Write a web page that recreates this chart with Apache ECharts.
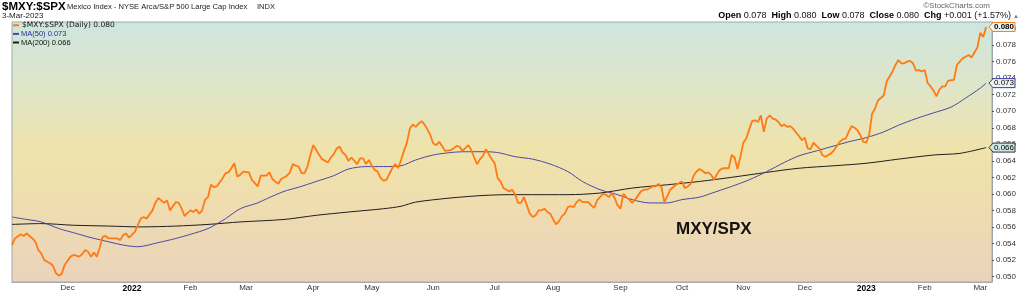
<!DOCTYPE html>
<html><head><meta charset="utf-8">
<script src="https://cdn.jsdelivr.net/npm/echarts@6/dist/echarts.min.js"></script>
<style>html,body{margin:0;padding:0;background:#fff}#c{width:1024px;height:293px}</style>
</head><body><div id="c"></div>
<script>
// ---- data ----
const firstDay = '2021-11-03', lastDay = '2023-03-07';
const holidays = ['2021-11-25','2021-12-24','2022-01-17','2022-02-21','2022-04-15','2022-05-30','2022-06-20','2022-07-04','2022-09-05','2022-11-24','2022-12-26','2023-01-02','2023-01-16','2023-02-20'];
const monthNames = ['Jan','Feb','Mar','Apr','May','Jun','Jul','Aug','Sep','Oct','Nov','Dec'];
const yTicks = [0.050,0.052,0.054,0.056,0.058,0.060,0.062,0.064,0.066,0.068,0.070,0.072,0.074,0.076,0.078,0.080];

const price = [
['2021-11-03',0.0538],['2021-11-04',0.0546],['2021-11-08',0.0551],['2021-11-09',0.0549],['2021-11-10',0.0552],['2021-11-12',0.0546],['2021-11-15',0.0542],['2021-11-16',0.0532],['2021-11-17',0.0528],['2021-11-18',0.0520],['2021-11-22',0.0516],['2021-11-23',0.0513],['2021-11-24',0.0504],['2021-11-26',0.0501],['2021-11-29',0.0503],['2021-11-30',0.0514],
['2021-12-02',0.0524],['2021-12-03',0.0526],['2021-12-07',0.0524],['2021-12-08',0.0527],['2021-12-09',0.0532],['2021-12-10',0.0530],['2021-12-13',0.0524],['2021-12-14',0.0529],['2021-12-15',0.0524],['2021-12-16',0.0535],['2021-12-17',0.0548],['2021-12-20',0.0549],['2021-12-21',0.0546],['2021-12-27',0.0546],['2021-12-28',0.0544],['2021-12-29',0.0550],['2021-12-30',0.0552],['2021-12-31',0.0547],
['2022-01-04',0.0554],['2022-01-05',0.0562],['2022-01-06',0.0570],['2022-01-07',0.0572],['2022-01-10',0.0570],['2022-01-12',0.0580],['2022-01-13',0.0589],['2022-01-14',0.0595],['2022-01-19',0.0589],['2022-01-20',0.0592],['2022-01-21',0.0580],['2022-01-25',0.0590],['2022-01-26',0.0589],['2022-01-27',0.0582],['2022-01-28',0.0573],['2022-01-31',0.0577],
['2022-02-01',0.0580],['2022-02-02',0.0578],['2022-02-03',0.0581],['2022-02-04',0.0576],['2022-02-07',0.0580],['2022-02-08',0.0593],['2022-02-09',0.0596],['2022-02-10',0.0611],['2022-02-11',0.0608],['2022-02-14',0.0609],['2022-02-16',0.0619],['2022-02-17',0.0625],['2022-02-18',0.0626],['2022-02-22',0.0631],['2022-02-23',0.0637],['2022-02-24',0.0621],['2022-02-25',0.0623],['2022-02-28',0.0627],
['2022-03-02',0.0626],['2022-03-03',0.0617],['2022-03-07',0.0609],['2022-03-08',0.0622],['2022-03-10',0.0622],['2022-03-11',0.0626],['2022-03-14',0.0618],['2022-03-16',0.0612],['2022-03-17',0.0618],['2022-03-21',0.0622],['2022-03-22',0.0626],['2022-03-23',0.0636],['2022-03-24',0.0634],['2022-03-25',0.0633],['2022-03-28',0.0625],['2022-03-29',0.0625],['2022-03-30',0.0633],['2022-03-31',0.0647],
['2022-04-01',0.0659],['2022-04-04',0.0653],['2022-04-05',0.0647],['2022-04-06',0.0642],['2022-04-08',0.0638],['2022-04-11',0.0644],['2022-04-12',0.0648],['2022-04-13',0.0655],['2022-04-14',0.0657],['2022-04-18',0.0650],['2022-04-19',0.0647],['2022-04-20',0.0640],['2022-04-21',0.0644],['2022-04-25',0.0636],['2022-04-26',0.0643],['2022-04-27',0.0643],['2022-04-28',0.0636],['2022-04-29',0.0641],
['2022-05-02',0.0634],['2022-05-03',0.0629],['2022-05-04',0.0627],['2022-05-05',0.0619],['2022-05-06',0.0616],['2022-05-09',0.0617],['2022-05-11',0.0631],['2022-05-12',0.0636],['2022-05-13',0.0631],['2022-05-16',0.0641],['2022-05-17',0.0652],['2022-05-18',0.0662],['2022-05-19',0.0679],['2022-05-20',0.0684],['2022-05-23',0.0681],['2022-05-24',0.0685],['2022-05-25',0.0688],['2022-05-26',0.0684],['2022-05-27',0.0678],['2022-05-31',0.0671],
['2022-06-01',0.0661],['2022-06-02',0.0659],['2022-06-03',0.0663],['2022-06-06',0.0658],['2022-06-07',0.0652],['2022-06-09',0.0653],['2022-06-10',0.0655],['2022-06-13',0.0658],['2022-06-14',0.0657],['2022-06-15',0.0652],['2022-06-17',0.0659],['2022-06-21',0.0653],['2022-06-22',0.0644],['2022-06-23',0.0636],['2022-06-24',0.0642],['2022-06-27',0.0646],['2022-06-28',0.0654],['2022-06-29',0.0648],['2022-06-30',0.0642],
['2022-07-01',0.0637],['2022-07-05',0.0619],['2022-07-06',0.0615],['2022-07-07',0.0607],['2022-07-08',0.0605],['2022-07-11',0.0603],['2022-07-12',0.0605],['2022-07-13',0.0599],['2022-07-14',0.0589],['2022-07-15',0.0589],['2022-07-18',0.0596],['2022-07-19',0.0586],['2022-07-20',0.0576],['2022-07-21',0.0572],['2022-07-22',0.0574],['2022-07-25',0.0580],['2022-07-26',0.0580],['2022-07-27',0.0582],['2022-07-28',0.0578],['2022-07-29',0.0576],
['2022-08-01',0.0569],['2022-08-02',0.0563],['2022-08-03',0.0567],['2022-08-04',0.0573],['2022-08-05',0.0576],['2022-08-08',0.0584],['2022-08-09',0.0585],['2022-08-10',0.0584],['2022-08-11',0.0590],['2022-08-12',0.0593],['2022-08-15',0.0590],['2022-08-17',0.0590],['2022-08-18',0.0586],['2022-08-19',0.0583],['2022-08-22',0.0592],['2022-08-23',0.0596],['2022-08-24',0.0600],['2022-08-25',0.0599],['2022-08-26',0.0596],['2022-08-29',0.0601],['2022-08-30',0.0595],['2022-08-31',0.0586],
['2022-09-01',0.0582],['2022-09-02',0.0600],['2022-09-06',0.0596],['2022-09-07',0.0593],['2022-09-08',0.0589],['2022-09-09',0.0593],['2022-09-13',0.0603],['2022-09-14',0.0605],['2022-09-15',0.0605],['2022-09-19',0.0609],['2022-09-20',0.0609],['2022-09-21',0.0612],['2022-09-22',0.0608],['2022-09-23',0.0590],['2022-09-26',0.0597],['2022-09-27',0.0605],['2022-09-28',0.0608],['2022-09-29',0.0611],
['2022-10-03',0.0615],['2022-10-04',0.0607],['2022-10-05',0.0609],['2022-10-06',0.0612],['2022-10-07',0.0622],['2022-10-10',0.0627],['2022-10-11',0.0630],['2022-10-12',0.0628],['2022-10-13',0.0625],['2022-10-14',0.0626],['2022-10-17',0.0623],['2022-10-18',0.0617],['2022-10-19',0.0624],['2022-10-20',0.0629],['2022-10-21',0.0631],['2022-10-25',0.0631],['2022-10-26',0.0647],['2022-10-27',0.0644],['2022-10-28',0.0630],['2022-10-31',0.0645],
['2022-11-01',0.0662],['2022-11-02',0.0667],['2022-11-03',0.0678],['2022-11-04',0.0688],['2022-11-07',0.0689],['2022-11-08',0.0687],['2022-11-09',0.0695],['2022-11-10',0.0675],['2022-11-11',0.0691],['2022-11-14',0.0695],['2022-11-15',0.0691],['2022-11-16',0.0690],['2022-11-17',0.0687],['2022-11-18',0.0682],['2022-11-21',0.0684],['2022-11-22',0.0681],['2022-11-23',0.0682],['2022-11-25',0.0679],['2022-11-29',0.0670],['2022-11-30',0.0665],
['2022-12-01',0.0668],['2022-12-02',0.0655],['2022-12-05',0.0654],['2022-12-06',0.0662],['2022-12-07',0.0658],['2022-12-08',0.0655],['2022-12-09',0.0647],['2022-12-12',0.0645],['2022-12-14',0.0649],['2022-12-15',0.0653],['2022-12-19',0.0663],['2022-12-20',0.0666],['2022-12-21',0.0667],['2022-12-22',0.0675],['2022-12-23',0.0682],['2022-12-27',0.0680],['2022-12-28',0.0677],['2022-12-29',0.0671],['2022-12-30',0.0663],
['2023-01-03',0.0662],['2023-01-04',0.0671],['2023-01-05',0.0697],['2023-01-06',0.0703],['2023-01-09',0.0713],['2023-01-11',0.0719],['2023-01-12',0.0736],['2023-01-13',0.0742],['2023-01-17',0.0748],['2023-01-18',0.0756],['2023-01-19',0.0762],['2023-01-20',0.0758],['2023-01-23',0.0758],['2023-01-24',0.0760],['2023-01-25',0.0761],['2023-01-26',0.0758],['2023-01-27',0.0749],['2023-01-30',0.0750],['2023-01-31',0.0748],
['2023-02-01',0.0750],['2023-02-02',0.0734],['2023-02-03',0.0730],['2023-02-06',0.0725],['2023-02-07',0.0718],['2023-02-08',0.0726],['2023-02-09',0.0730],['2023-02-10',0.0730],['2023-02-13',0.0737],['2023-02-15',0.0738],['2023-02-16',0.0756],['2023-02-17',0.0760],['2023-02-21',0.0764],['2023-02-23',0.0768],['2023-02-24',0.0765],['2023-02-27',0.0771],['2023-02-28',0.0777],
['2023-03-01',0.0795],['2023-03-02',0.0790],['2023-03-03',0.0802]
];

const ma50 = [
['2021-11-03',0.0572],['2021-11-10',0.0569],['2021-11-17',0.0566],['2021-11-26',0.0558],['2021-12-03',0.0553],['2021-12-13',0.0547],['2021-12-21',0.0542],['2021-12-29',0.0538],['2022-01-05',0.0536],['2022-01-14',0.0541],['2022-01-25',0.0546],['2022-02-01',0.0551],['2022-02-09',0.0558],['2022-02-17',0.0570],['2022-02-25',0.0582],['2022-03-07',0.0589],['2022-03-10',0.0594],['2022-03-18',0.0603],['2022-03-25',0.0608],['2022-04-04',0.0615],['2022-04-12',0.0622],['2022-04-20',0.0630],['2022-04-28',0.0633],['2022-05-06',0.0633],['2022-05-16',0.0634],['2022-05-23',0.0641],['2022-06-01',0.0647],['2022-06-09',0.0650],['2022-06-16',0.0651],['2022-06-27',0.0651],['2022-07-05',0.0650],['2022-07-13',0.0645],['2022-07-21',0.0642],['2022-07-29',0.0636],['2022-08-08',0.0627],['2022-08-15',0.0615],['2022-08-23',0.0605],['2022-08-31',0.0599],['2022-09-08',0.0593],['2022-09-16',0.0589],['2022-09-26',0.0589],['2022-10-03',0.0593],['2022-10-11',0.0596],['2022-10-19',0.0603],['2022-10-26',0.0609],['2022-11-03',0.0617],['2022-11-11',0.0627],['2022-11-21',0.0638],['2022-11-29',0.0646],['2022-12-07',0.0652],['2022-12-15',0.0658],['2022-12-22',0.0663],['2023-01-03',0.0668],['2023-01-11',0.0675],['2023-01-19',0.0683],['2023-01-27',0.0691],['2023-02-06',0.0698],['2023-02-14',0.0705],['2023-02-22',0.0716],['2023-03-01',0.0728],['2023-03-03',0.0734]
];

const ma200 = [
['2021-11-03',0.0563],['2021-11-17',0.0564],['2021-12-03',0.0562],['2021-12-21',0.0561],['2022-01-06',0.0560],['2022-01-25',0.0561],['2022-02-09',0.0563],['2022-02-25',0.0566],['2022-03-18',0.0569],['2022-04-04',0.0574],['2022-04-20',0.0578],['2022-05-06',0.0582],['2022-05-16',0.0585],['2022-05-23',0.0590],['2022-06-09',0.0595],['2022-06-27',0.0598],['2022-07-11',0.0599],['2022-07-21',0.0599],['2022-08-08',0.0599],['2022-08-23',0.0601],['2022-09-08',0.0607],['2022-09-26',0.0611],['2022-10-11',0.0615],['2022-10-26',0.0620],['2022-11-11',0.0626],['2022-11-29',0.0631],['2022-12-15',0.0634],['2023-01-03',0.0637],['2023-01-19',0.0642],['2023-02-06',0.0647],['2023-02-17',0.0649],['2023-03-03',0.0656]
];

// ---- trading-day categories ----
const categories = [];
for (let d = new Date(firstDay + 'T00:00:00Z'); d <= new Date(lastDay + 'T00:00:00Z'); d.setUTCDate(d.getUTCDate() + 1)) {
  const dow = d.getUTCDay(); const s = d.toISOString().slice(0, 10);
  if (dow === 0 || dow === 6 || holidays.includes(s)) continue;
  categories.push(s);
}
const isMonthStart = i => i > 0 && categories[i].slice(5, 7) !== categories[i - 1].slice(5, 7);

const C_PRICE = '#ff7a12', C_MA50 = '#4a48a8', C_MA200 = '#1e1e1e';
const last = a => a[a.length - 1][1];
const names = ['$MXY:$SPX (Daily)', 'MA(50)', 'MA(200)'];
const lastVals = { [names[0]]: last(price), [names[1]]: last(ma50), [names[2]]: last(ma200) };
const FONT = 'Liberation Sans, Arial, sans-serif';

const chart = echarts.init(document.getElementById('c'), null, { renderer: 'canvas' });
chart.setOption({
  animation: false,
  backgroundColor: '#ffffff',
  grid: {
    left: 12, right: 32, top: 22, bottom: 11, show: true, borderColor: '#a0aab0', borderWidth: 1,
    backgroundColor: new echarts.graphic.LinearGradient(0, 0, 0, 1, [
      { offset: 0, color: '#cde6de' }, { offset: 0.3, color: '#e2e5c3' }, { offset: 0.5, color: '#efe3aa' },
      { offset: 0.72, color: '#efdcb0' }, { offset: 1, color: '#ead3bc' }
    ])
  },
  legend: {
    orient: 'vertical', left: 13, top: 21, padding: 0, itemWidth: 6, itemHeight: 2, itemGap: 0, icon: 'rect',
    textStyle: { fontSize: 7.5, fontFamily: FONT, lineHeight: 8.6, padding: [0, 0, 0, -3] },
    formatter: n => n + ' ' + lastVals[n].toFixed(3),
    data: [
      { name: names[0], textStyle: { color: '#111', fontFamily: 'DejaVu Sans', fontSize: 7.5, padding: [0, 0, 0, -2] } },
      { name: names[1], textStyle: { color: '#2b2a9e' } },
      { name: names[2], textStyle: { color: '#111' } }
    ]
  },
  xAxis: {
    type: 'category', data: categories, boundaryGap: false,
    axisLine: { show: true, lineStyle: { color: '#9aa4aa', type: 'dotted' } },
    axisTick: { show: false },
    splitLine: { show: false },
    axisLabel: {
      interval: (i) => isMonthStart(i), margin: 2, fontSize: 8, fontFamily: FONT, color: '#333',
      formatter: v => { const m = +v.slice(5, 7); return m === 1 ? '{y|' + v.slice(0, 4) + '}' : monthNames[m - 1]; },
      rich: { y: { fontWeight: 'bold', color: '#000', fontSize: 8.5, fontFamily: FONT } }
    }
  },
  yAxis: {
    type: 'value', position: 'right', min: 0.04933, max: 0.0808, scale: true,
    axisLine: { show: true, lineStyle: { color: '#9aa4aa' } },
    axisTick: { show: true, length: 2, customValues: yTicks, lineStyle: { color: '#555' } },
    splitLine: { show: false },
    axisLabel: { customValues: yTicks, margin: 4, fontSize: 8, fontFamily: FONT, color: '#333', formatter: v => v.toFixed(3) }
  },
  series: [
    { name: names[2], type: 'line', data: ma200, showSymbol: false, smooth: 0.3, z: 3,
      lineStyle: { color: C_MA200, width: 1 }, itemStyle: { color: C_MA200 } },
    { name: names[1], type: 'line', data: ma50, showSymbol: false, smooth: 0.3, z: 4,
      lineStyle: { color: C_MA50, width: 1 }, itemStyle: { color: C_MA50 } },
    { name: names[0], type: 'line', data: price, showSymbol: false, z: 5,
      lineStyle: { color: C_PRICE, width: 1.8 }, itemStyle: { color: C_PRICE } }
  ]
});

// ---- header texts and last-value badges (badge y from the library's y scale) ----
const headerGraphics = [
  { type: 'text', x: 2, y: 1, style: { text: '$MXY:$SPX', font: 'bold 11.5px ' + FONT, fill: '#000' } },
  { type: 'text', x: 67, y: 3, style: { text: 'Mexico Index - NYSE Arca/S&P 500 Large Cap Index', font: '7.6px ' + FONT, fill: '#222' } },
  { type: 'text', x: 257, y: 3, style: { text: 'INDX', font: '7.5px ' + FONT, fill: '#222' } },
  { type: 'text', x: 2, y: 12, style: { text: '3-Mar-2023', font: '8px ' + FONT, fill: '#222' } },
  { type: 'text', x: 990, y: 2, style: { text: '©StockCharts.com', font: '8px ' + FONT, fill: '#666', align: 'right' } },
  { type: 'text', x: 1011, y: 11, style: {
      text: '{b|Open} 0.078  {b|High} 0.080  {b|Low} 0.078  {b|Close} 0.080  {b|Chg} +0.001 (+1.57%)',
      font: '9px ' + FONT, fill: '#111', align: 'right',
      rich: { b: { font: 'bold 9px ' + FONT, fill: '#000' } } } },
  { type: 'text', x: 1013, y: 13, style: { text: '▲', font: '6px ' + FONT, fill: '#777' } },
  { type: 'text', x: 676, y: 221, z: 10, style: { text: 'MXY/SPX', font: 'bold 17px ' + FONT, fill: '#111' } }
];
const badgeSpecs = [
  [last(price), C_PRICE, '#eef6f1', true],
  [last(ma50), '#3a3aa8', '#eef4f2', false],
  [last(ma200), '#333333', '#cfe7e2', false]
];
const badgeGraphics = badgeSpecs.map(([v, stroke, fill, bold]) => {
  const y = chart.convertToPixel({ yAxisIndex: 0 }, v);
  return {
    type: 'group', z: 100, children: [
      { type: 'polygon', z: 100, shape: { points: [[989, y], [993, y - 4.5], [1015, y - 4.5], [1015, y + 4.5], [993, y + 4.5]] },
        style: { fill: fill, stroke: stroke, lineWidth: 1 } },
      { type: 'text', z: 101, x: 994, y: y, style: { text: v.toFixed(3), font: (bold ? 'bold ' : '') + '8px ' + FONT, fill: '#000', verticalAlign: 'middle' } }
    ]
  };
});
chart.setOption({ graphic: headerGraphics.concat(badgeGraphics) });
</script></body></html>
